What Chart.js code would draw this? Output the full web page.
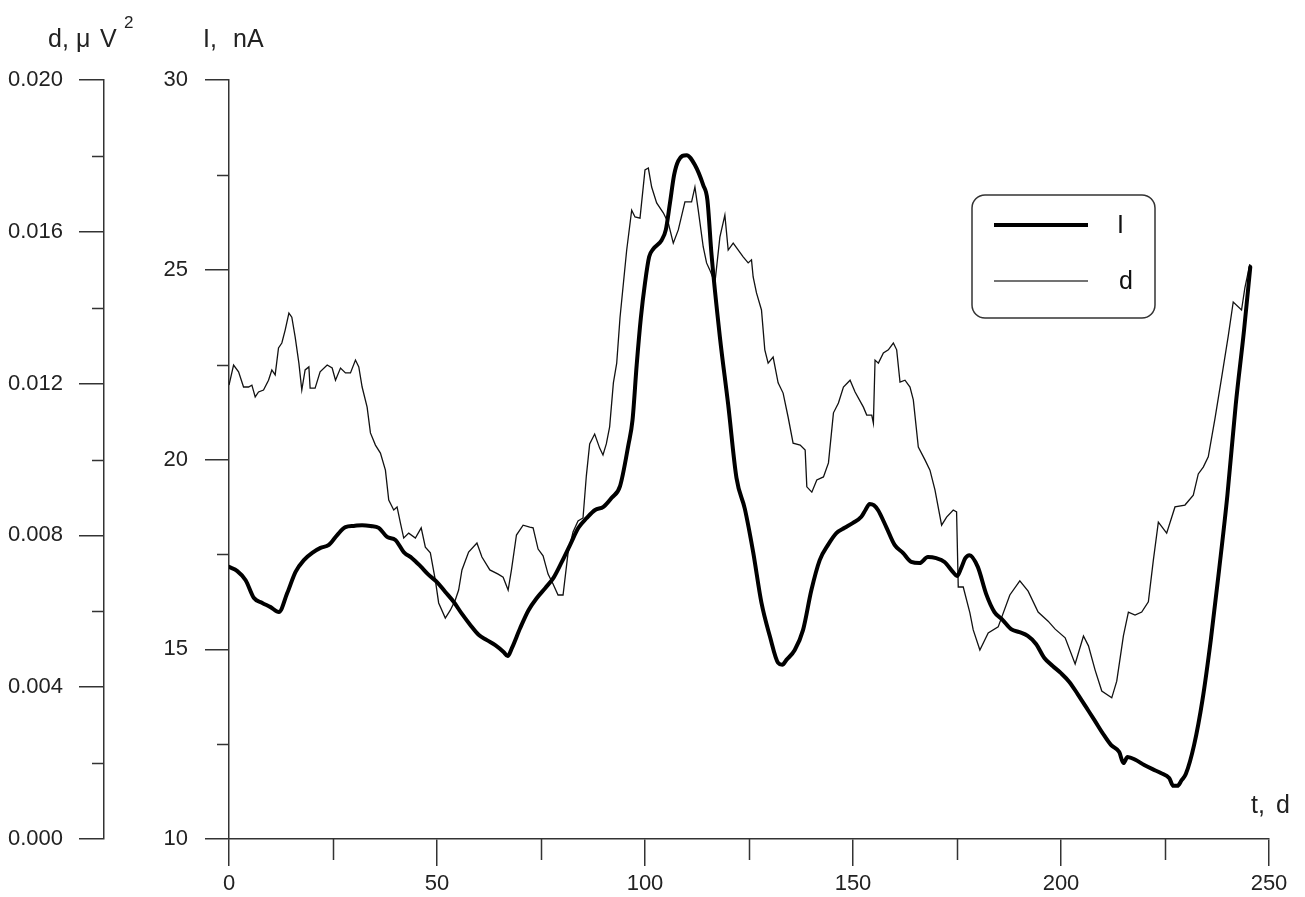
<!DOCTYPE html>
<html>
<head>
<meta charset="utf-8">
<script src="https://cdn.jsdelivr.net/npm/chart.js@4/dist/chart.umd.min.js"></script>
<style>
html,body{margin:0;padding:0;background:#fff;}
#wrap{width:1305px;height:897px;position:relative;}
</style>
</head>
<body>
<div id="wrap"><canvas id="c" width="1305" height="897"></canvas></div>
<script>
// ---- data ----
const tI = [0,2,4,6,8,10,12,14,16,18,20,22,24,26,28,30,32,34,36,38,40,42,44,46,48,50,52,54,56,58,60,62,64,66,67,68,70,72,74,76,78,80,82,84,86,88,90,92,94,96,97,98,99,100,101,102,104,105,106,107,108,110,112,114,115,116,118,120,122,124,126,128,130,132,133,134,136,138,140,142,144,146,148,150,152,153,154,155,156,158,160,162,164,166,168,170,172,174,175,176,177,178,180,182,184,186,188,190,192,194,196,198,200,202,204,206,208,210,212,214,215,216,218,220,222,224,226,227,228,229,230,232,234,236,238,240,242,244,245.5];
const IVals = [17.17,17.06,16.82,16.35,16.22,16.11,15.98,16.48,17.04,17.35,17.54,17.67,17.75,18.01,18.22,18.25,18.27,18.25,18.20,17.96,17.88,17.56,17.40,17.19,16.96,16.77,16.51,16.25,15.93,15.64,15.38,15.24,15.11,14.93,14.82,15.03,15.56,16.03,16.35,16.61,16.88,17.30,17.75,18.20,18.46,18.67,18.75,18.99,19.30,20.38,21.04,22.49,23.73,24.65,25.34,25.55,25.78,26.05,26.76,27.50,27.87,28.02,27.76,27.23,26.84,25.39,23.23,21.44,19.51,18.70,17.56,16.22,15.35,14.64,14.59,14.72,14.98,15.51,16.56,17.35,17.75,18.06,18.20,18.33,18.49,18.67,18.83,18.80,18.67,18.22,17.75,17.54,17.30,17.27,17.43,17.40,17.30,17.04,16.93,17.14,17.40,17.48,17.17,16.46,15.98,15.77,15.53,15.45,15.35,15.14,14.77,14.56,14.37,14.14,13.82,13.48,13.14,12.79,12.48,12.29,12.00,12.16,12.08,11.95,11.84,11.74,11.61,11.40,11.40,11.55,11.71,12.48,13.66,15.24,17.09,19.06,21.44,23.41,25.07];

const tD = [0,1.1,2.3,3.5,4.7,5.5,6.3,7.1,8.3,9.5,10.3,11.1,11.9,12.7,13.5,14.4,15.1,15.9,16.8,17.5,18.3,19.2,19.5,20.7,21.9,23.6,24.8,25.6,26.8,28.0,29.2,30.4,31.2,32.0,33.2,34.0,35.2,36.4,37.6,38.4,39.6,40.4,41.2,42.0,43.2,44.8,46.2,47.2,48.4,49.6,50.4,52.0,53.2,54.4,55.2,56.0,57.6,59.6,60.8,62.7,64.7,65.9,67.1,67.9,69.1,70.7,72.3,73.1,74.3,75.5,76.7,77.9,79.1,80.3,81.5,82.7,83.9,85.1,85.9,86.7,87.9,89.1,89.9,90.7,91.5,92.4,93.2,94.0,95.6,96.8,97.6,98.8,100.0,100.8,101.6,102.8,104.4,105.6,106.8,108.0,109.6,111.2,112.0,112.8,114.0,114.8,115.6,116.8,118.0,119.2,120.0,121.2,123.6,124.8,125.6,126.0,126.8,128.0,128.8,129.6,130.8,132.0,133.2,134.4,135.6,137.3,138.5,138.9,140.1,141.3,142.9,144.1,145.3,146.5,147.7,149.3,150.5,152.5,153.3,154.5,154.9,155.3,156.1,157.3,158.5,159.7,160.5,161.3,162.5,163.7,164.5,165.7,167.3,168.5,169.7,171.3,172.5,174.1,174.9,175.3,176.5,178.1,178.9,180.5,182.5,184.9,187.7,190.1,192.1,194.5,196.9,198.6,201.0,203.4,205.4,206.6,208.2,209.8,212.2,213.4,215.0,216.2,217.8,219.4,221.0,222.2,223.4,225.4,227.4,229.8,231.8,233.0,234.2,235.4,237.0,238.6,240.2,241.4,243.4,244.2,245.4];
const dVals = [0.01196,0.01249,0.01231,0.01191,0.01191,0.01196,0.01165,0.01178,0.01183,0.01209,0.01236,0.01223,0.01294,0.01307,0.01341,0.01386,0.01375,0.01323,0.01254,0.01183,0.01236,0.01244,0.01188,0.01188,0.01231,0.01249,0.01241,0.01209,0.01241,0.01228,0.01228,0.01262,0.01244,0.01191,0.01138,0.01070,0.01038,0.01017,0.00972,0.00893,0.00867,0.00875,0.00833,0.00793,0.00806,0.00793,0.00820,0.00769,0.00754,0.00682,0.00622,0.00582,0.00603,0.00630,0.00656,0.00709,0.00756,0.00780,0.00743,0.00709,0.00698,0.00690,0.00656,0.00709,0.00801,0.00827,0.00822,0.00820,0.00764,0.00746,0.00698,0.00672,0.00643,0.00643,0.00754,0.00809,0.00838,0.00846,0.00957,0.01041,0.01067,0.01030,0.01012,0.01041,0.01086,0.01202,0.01254,0.01375,0.01552,0.01657,0.01639,0.01636,0.01763,0.01768,0.01718,0.01676,0.01650,0.01623,0.01570,0.01605,0.01679,0.01679,0.01718,0.01657,0.01560,0.01518,0.01499,0.01465,0.01586,0.01644,0.01552,0.01570,0.01534,0.01518,0.01526,0.01481,0.01439,0.01394,0.01289,0.01254,0.01270,0.01202,0.01175,0.01112,0.01043,0.01038,0.01025,0.00928,0.00914,0.00946,0.00954,0.00991,0.01123,0.01149,0.01191,0.01209,0.01178,0.01138,0.01117,0.01117,0.01096,0.01262,0.01254,0.01281,0.01289,0.01307,0.01289,0.01204,0.01209,0.01191,0.01157,0.01033,0.00999,0.00972,0.00920,0.00827,0.00848,0.00867,0.00862,0.00664,0.00664,0.00596,0.00551,0.00498,0.00543,0.00559,0.00643,0.00680,0.00653,0.00598,0.00574,0.00553,0.00530,0.00461,0.00535,0.00509,0.00445,0.00390,0.00372,0.00416,0.00535,0.00598,0.00590,0.00598,0.00625,0.00735,0.00835,0.00806,0.00875,0.00880,0.00906,0.00962,0.00980,0.01007,0.01107,0.01215,0.01325,0.01415,0.01394,0.01452,0.01515];

const xTicks = [0,50,100,150,200,250];
const xMinorTicks = [25,75,125,175,225];
const iTicks = [10,15,20,25,30];
const iMinorTicks = [12.5,17.5,22.5,27.5];
const dTicks = [0,0.004,0.008,0.012,0.016,0.020];
const dMinorTicks = [0.002,0.006,0.010,0.014,0.018];
const seriesNames = ['I','d'];

const FONT = '"Liberation Sans", Arial, sans-serif';
const AX = '#333';

const extras = {
  id: 'extras',
  afterDraw(chart) {
    const ctx = chart.ctx;
    const sx = chart.scales.x, sI = chart.scales.yI, sd = chart.scales.yd;
    ctx.save();
    ctx.strokeStyle = AX;
    ctx.lineWidth = 1.5;
    ctx.beginPath();
    xMinorTicks.forEach(v => { const p = Math.round(sx.getPixelForValue(v)) + 0.5; ctx.moveTo(p, sx.top); ctx.lineTo(p, sx.top + 21); });
    iMinorTicks.forEach(v => { const p = Math.round(sI.getPixelForValue(v)) + 0.5; ctx.moveTo(sI.right - 12, p); ctx.lineTo(sI.right, p); });
    dMinorTicks.forEach(v => { const p = Math.round(sd.getPixelForValue(v)) + 0.5; ctx.moveTo(sd.right - 12, p); ctx.lineTo(sd.right, p); });
    ctx.stroke();

    // axis titles
    ctx.fillStyle = '#222';
    ctx.textBaseline = 'alphabetic';
    ctx.textAlign = 'left';
    ctx.font = '25px ' + FONT;
    ctx.fillText('d,', 48, 47);
    ctx.fillText('\u03bc', 76, 47);
    ctx.fillText('V', 100, 47);
    ctx.font = '17px ' + FONT;
    ctx.fillText('2', 124, 28);
    ctx.font = '25px ' + FONT;
    ctx.fillText('I,', 203, 47);
    ctx.fillText('nA', 233, 47);
    ctx.fillText('t,', 1251, 813);
    ctx.fillText('d', 1276, 813);

    // legend
    const L = 972, T = 195, W = 183, H = 123, r = 13;
    ctx.beginPath();
    ctx.moveTo(L + r, T);
    ctx.lineTo(L + W - r, T);
    ctx.arcTo(L + W, T, L + W, T + r, r);
    ctx.lineTo(L + W, T + H - r);
    ctx.arcTo(L + W, T + H, L + W - r, T + H, r);
    ctx.lineTo(L + r, T + H);
    ctx.arcTo(L, T + H, L, T + H - r, r);
    ctx.lineTo(L, T + r);
    ctx.arcTo(L, T, L + r, T, r);
    ctx.closePath();
    ctx.fillStyle = '#fff';
    ctx.fill();
    ctx.strokeStyle = AX;
    ctx.lineWidth = 1.5;
    ctx.stroke();
    const ds = chart.data.datasets;
    const rows = [225, 281];
    ds.forEach((d, i) => {
      ctx.beginPath();
      ctx.strokeStyle = i === 0 ? '#000' : '#444';
      ctx.lineWidth = i === 0 ? 4 : 1.5;
      ctx.moveTo(994, rows[i]);
      ctx.lineTo(1088, rows[i]);
      ctx.stroke();
      ctx.fillStyle = '#111';
      ctx.font = '25px ' + FONT;
      ctx.textBaseline = 'middle';
      ctx.fillText(d.label, i === 0 ? 1117 : 1119, rows[i] + 1);
    });
    ctx.restore();
  }
};

const tickFont = { family: FONT, size: 22 };

new Chart(document.getElementById('c'), {
  type: 'line',
  data: {
    datasets: [
      {
        label: seriesNames[0],
        data: tI.map((t, i) => ({ x: t, y: IVals[i] })),
        yAxisID: 'yI',
        borderColor: '#000',
        borderWidth: 4,
        borderJoinStyle: 'round',
        borderCapStyle: 'round',
        pointRadius: 0,
        cubicInterpolationMode: 'monotone',
        fill: false
      },
      {
        label: seriesNames[1],
        data: tD.map((t, i) => ({ x: t, y: dVals[i] })),
        yAxisID: 'yd',
        borderColor: '#111',
        borderWidth: 1.3,
        pointRadius: 0,
        tension: 0,
        fill: false
      }
    ]
  },
  options: {
    responsive: false,
    animation: false,
    devicePixelRatio: 1,
    layout: { padding: { top: 80, right: 36, bottom: 0, left: 0 } },
    plugins: { legend: { display: false }, tooltip: { enabled: false } },
    scales: {
      x: {
        type: 'linear', position: 'bottom', min: 0, max: 250,
        afterBuildTicks: s => { s.ticks = xTicks.map(v => ({ value: v })); },
        afterFit: s => { s.height = 58; },
        ticks: { font: tickFont, color: '#222', padding: 5, maxRotation: 0, autoSkip: false },
        grid: { drawOnChartArea: false, drawTicks: true, tickLength: 27, color: AX, lineWidth: 1.5 },
        border: { display: true, color: AX, width: 1.5 }
      },
      yI: {
        type: 'linear', position: 'left', min: 10, max: 30, weight: 0,
        afterBuildTicks: s => { s.ticks = iTicks.map(v => ({ value: v })); },
        afterFit: s => { s.width = 125; },
        ticks: { font: tickFont, color: '#222', padding: 17, autoSkip: false },
        grid: { drawOnChartArea: false, drawTicks: true, tickLength: 24, color: AX, lineWidth: 1.5 },
        border: { display: true, color: AX, width: 1.5 }
      },
      yd: {
        type: 'linear', position: 'left', min: 0, max: 0.02, weight: 1,
        afterBuildTicks: s => { s.ticks = dTicks.map(v => ({ value: v })); },
        afterFit: s => { s.width = 104; },
        ticks: { font: tickFont, color: '#222', padding: 16, autoSkip: false, callback: v => Number(v).toFixed(3) },
        grid: { drawOnChartArea: false, drawTicks: true, tickLength: 25, color: AX, lineWidth: 1.5 },
        border: { display: true, color: AX, width: 1.5 }
      }
    }
  },
  plugins: [extras]
});
</script>
</body>
</html>
